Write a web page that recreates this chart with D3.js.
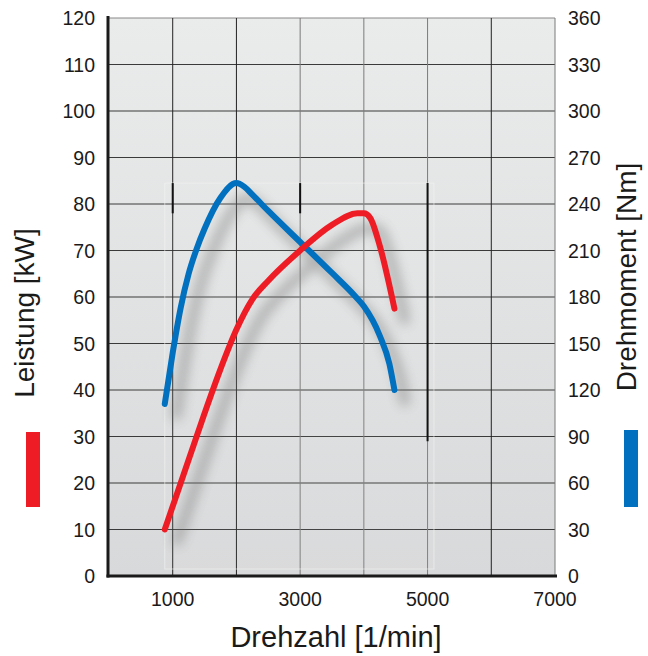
<!doctype html>
<html>
  <head>
    <script src="https://cdn.jsdelivr.net/npm/d3@7"></script>
    <style>
      body { margin: 0; background: #fff; }
      text { font-family: "Liberation Sans", Arial, sans-serif; fill: #1a1a1a; }
    </style>
  </head>
  <body>
    <svg id="chart" width="648" height="656"></svg>

    <script>
      // Leistung (kW) over rpm
      var powerRpm = [875, 1000, 1250, 1500, 1750, 2000, 2250, 2500, 3000, 3500, 3900, 4000, 4100, 4250, 4480];
      var powerKw  = [10, 15, 25, 35, 44.5, 53, 59.5, 63.5, 70, 75.5, 78, 78, 77, 71, 57.5];

      // Drehmoment (Nm) over rpm
      var torqueRpm = [875, 1000, 1125, 1250, 1375, 1500, 1750, 2000, 2125, 2250, 2500, 3000, 3500, 3875, 4000, 4250, 4400, 4480];
      var torqueNm  = [111, 144, 173, 195, 211, 224, 244, 253.5, 251, 246, 235.5, 215.5, 195.5, 180, 174, 155, 137, 120];

      var xTicks = [1000, 3000, 5000, 7000];
      var leftTicks = d3.range(0, 121, 10);
      var rightTicks = d3.range(0, 361, 30);

      var svg = d3.select("#chart");
      var pl = 109, pr = 555, pt = 18, pb = 576;

      var x = d3.scaleLinear().domain([0, 7000]).range([pl, pr]);
      var yL = d3.scaleLinear().domain([0, 120]).range([pb, pt]);
      var yR = d3.scaleLinear().domain([0, 360]).range([pb, pt]);

      var defs = svg.append("defs");
      var grad = defs.append("linearGradient").attr("id", "bg")
        .attr("x1", 0).attr("y1", 0).attr("x2", 0).attr("y2", 1);
      grad.append("stop").attr("offset", "0%").attr("stop-color", "#eaebeb");
      grad.append("stop").attr("offset", "100%").attr("stop-color", "#d8d9da");
      defs.append("filter").attr("id", "blur")
        .attr("x", "-20%").attr("y", "-20%").attr("width", "140%").attr("height", "140%")
        .append("feGaussianBlur").attr("stdDeviation", 6);

      svg.append("rect")
        .attr("x", pl).attr("y", pt)
        .attr("width", pr - pl).attr("height", pb - pt)
        .attr("fill", "url(#bg)");

      // grid
      var grid = svg.append("g");
      grid.selectAll("line.h")
        .data(leftTicks.slice(1))
        .enter().append("line")
        .attr("x1", pl).attr("x2", pr)
        .attr("y1", d => yL(d)).attr("y2", d => yL(d))
        .attr("stroke", d => (d === 120 ? "#888" : "#3a3a3a"))
        .attr("stroke-width", 1);
      grid.selectAll("line.v")
        .data(d3.range(1000, 7001, 1000))
        .enter().append("line")
        .attr("y1", pt).attr("y2", pb)
        .attr("x1", d => x(d)).attr("x2", d => x(d))
        .attr("stroke", d => ([1000, 2000, 6000].indexOf(d) >= 0 ? "#222" : "#7a7a7a"))
        .attr("stroke-width", 1);

      // faint inner panel with dark marks
      svg.append("rect")
        .attr("x", x(875)).attr("y", yL(84.5))
        .attr("width", x(5100) - x(875)).attr("height", yL(1.5) - yL(84.5))
        .attr("fill", "#fff").attr("fill-opacity", 0.05)
        .attr("stroke", "#f4f4f4").attr("stroke-opacity", 0.6).attr("stroke-width", 1);
      var marks = [[1000, 84.5, 78], [3000, 84.5, 78], [5000, 84.5, 29]];
      svg.selectAll("line.mark")
        .data(marks)
        .enter().append("line")
        .attr("x1", d => x(d[0])).attr("x2", d => x(d[0]))
        .attr("y1", d => yL(d[1])).attr("y2", d => yL(d[2]))
        .attr("stroke", "#111").attr("stroke-width", 2);

      var powerData = powerRpm.map((r, i) => [r, powerKw[i]]);
      var torqueData = torqueRpm.map((r, i) => [r, torqueNm[i]]);

      var powerLine = d3.line().curve(d3.curveMonotoneX)
        .x(d => x(d[0])).y(d => yL(d[1]));
      var torqueLine = d3.line().curve(d3.curveMonotoneX)
        .x(d => x(d[0])).y(d => yR(d[1]));

      // shadows
      var shadow = svg.append("g").attr("filter", "url(#blur)")
        .attr("transform", "translate(11,15)").attr("opacity", 0.45);
      shadow.append("path").attr("d", torqueLine(torqueData))
        .attr("fill", "none").attr("stroke", "#707070").attr("stroke-width", 10);
      shadow.append("path").attr("d", powerLine(powerData))
        .attr("fill", "none").attr("stroke", "#707070").attr("stroke-width", 10);

      svg.append("path").attr("d", torqueLine(torqueData))
        .attr("fill", "none").attr("stroke", "#0070bf")
        .attr("stroke-width", 6).attr("stroke-linecap", "round").attr("stroke-linejoin", "round");
      svg.append("path").attr("d", powerLine(powerData))
        .attr("fill", "none").attr("stroke", "#ee1c25")
        .attr("stroke-width", 6).attr("stroke-linecap", "round").attr("stroke-linejoin", "round");

      // axes lines
      svg.append("line").attr("x1", pl - 1).attr("x2", pl - 1)
        .attr("y1", pt - 2).attr("y2", pb + 1.5)
        .attr("stroke", "#1a1a1a").attr("stroke-width", 3);
      svg.append("line").attr("x1", pl - 2.5).attr("x2", pr + 2)
        .attr("y1", pb).attr("y2", pb)
        .attr("stroke", "#1a1a1a").attr("stroke-width", 3);

      // tick labels
      svg.selectAll("text.l")
        .data(leftTicks)
        .enter().append("text")
        .attr("x", 95).attr("y", d => yL(d) + 7)
        .attr("text-anchor", "end").attr("font-size", 19.5)
        .text(d => d);
      svg.selectAll("text.r")
        .data(rightTicks)
        .enter().append("text")
        .attr("x", 568).attr("y", d => yR(d) + 7)
        .attr("text-anchor", "start").attr("font-size", 19.5)
        .text(d => d);
      svg.selectAll("text.x")
        .data(xTicks)
        .enter().append("text")
        .attr("x", d => x(d)).attr("y", 606)
        .attr("text-anchor", "middle").attr("font-size", 19.5)
        .text(d => d);

      // titles
      svg.append("text")
        .attr("transform", "translate(34,313) rotate(-90)")
        .attr("text-anchor", "middle").attr("font-size", 28)
        .text("Leistung [kW]");
      svg.append("text")
        .attr("transform", "translate(636,277) rotate(-90)")
        .attr("text-anchor", "middle").attr("font-size", 28)
        .text("Drehmoment [Nm]");
      svg.append("text")
        .attr("x", 336).attr("y", 647)
        .attr("text-anchor", "middle").attr("font-size", 29)
        .text("Drehzahl [1/min]");

      // legend swatches
      svg.append("rect").attr("x", 26).attr("y", 432).attr("width", 14).attr("height", 75)
        .attr("fill", "#ee1c25");
      svg.append("rect").attr("x", 624).attr("y", 430).attr("width", 14).attr("height", 77)
        .attr("fill", "#0070bf");
    </script>
  </body>
</html>
